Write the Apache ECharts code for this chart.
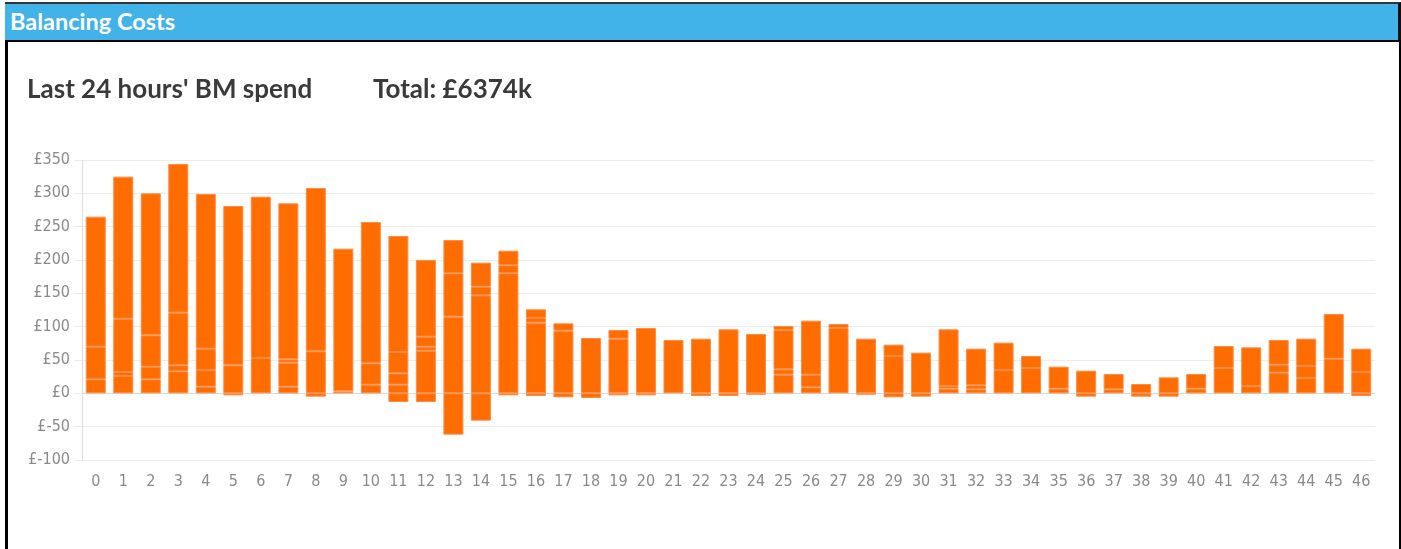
<!DOCTYPE html>
<html>
<head>
<meta charset="utf-8">
<script src="https://cdn.jsdelivr.net/npm/echarts@6/dist/echarts.min.js"></script>
<style>
  html, body { margin: 0; padding: 0; background: #fff; width: 1401px; height: 549px; overflow: hidden; }
  #chart { position: absolute; left: 0; top: 0; width: 1401px; height: 549px; }
  #frame { position: absolute; left: 5px; top: 40px; width: 1391px; height: 520px; border-left: 3px solid #000; border-right: 3px solid #000; pointer-events: none; }
  #header { position: absolute; left: 5px; top: 2px; width: 1393px; height: 36px; background: #41B3E9; border-top: 2px solid #333; border-bottom: 2px solid #000; border-right: 3px solid #111; pointer-events: none; }
  #header span { position: absolute; left: 5px; top: 3px; color: #fff; font-family: Lato, "Open Sans", sans-serif; font-weight: bold; font-size: 23.5px; }
</style>
</head>
<body>
<div id="chart"></div>
<div id="header"><span>Balancing Costs</span></div>
<div id="frame"></div>
<script>
// Settlement periods (x categories)
const categories = ['0','1','2','3','4','5','6','7','8','9','10','11','12','13','14','15','16','17','18','19','20','21','22','23','24','25','26','27','28','29','30','31','32','33','34','35','36','37','38','39','40','41','42','43','44','45','46'];

// Stacked cost components (£k), bottom to top
const seg1 = [21,26,21,33,10,42,53,10,63,3,13,13,64,115,147,180,106,94,83,82,98,80,82,96,89,28,9,98,82,56,61,7,6,35,38,7,34,6,14,24,7,38,11,31,23,52,32];
const seg2 = [49,6,19,9,25,239,242,36,245,214,32,17,6,65,13,12,7,11,null,13,null,null,null,null,null,8,19,6,null,17,null,4,6,41,18,33,null,23,null,null,22,33,58,12,18,67,35];
const seg3 = [195,80,47,79,32,null,null,5,null,null,212,32,15,50,36,22,13,null,null,null,null,null,null,null,null,59,81,null,null,null,null,85,55,null,null,null,null,null,null,null,null,null,null,37,41,null,null];
const seg4 = [null,213,213,223,232,null,null,234,null,null,null,174,115,null,null,null,null,null,null,null,null,null,null,null,null,6,null,null,null,null,null,null,null,null,null,null,null,null,null,null,null,null,null,null,null,null,null];
const negative = [null,null,null,null,null,-3,null,null,-5,null,null,-13,-13,-62,-41,-3,-4,-6,-7,-3,-3,null,-4,-4,-2,null,null,null,-2,-6,-5,null,null,null,null,null,-5,null,-5,-5,null,null,null,null,null,null,-4];

const titleText = "Last 24 hours' BM spend";
const totalText = "Total: £6374k";

const chart = echarts.init(document.getElementById('chart'), null, { renderer: 'canvas' });

const barStyle = { color: '#FF6C00', borderColor: '#FF8C45', borderWidth: 1 };
function mk(data) {
  return { type: 'bar', stack: 'bm', data: data, barWidth: 20, itemStyle: barStyle, emphasis: { disabled: true }, animation: false };
}
const axisFont = '"Liberation Sans Narrow", "DejaVu Sans Condensed", sans-serif';

chart.setOption({
  animation: false,
  title: [
    { text: titleText, left: 22, top: 72, textStyle: { fontFamily: 'Lato, "Open Sans", sans-serif', fontWeight: 'bold', fontSize: 26, color: '#3a3a3a' } },
    { text: totalText, left: 368, top: 72, textStyle: { fontFamily: 'Lato, "Open Sans", sans-serif', fontWeight: 'bold', fontSize: 26, color: '#3a3a3a' } }
  ],
  grid: { left: 82, right: 26, top: 160, bottom: 89, containLabel: false },
  xAxis: {
    type: 'category',
    data: categories,
    axisLine: { onZero: true, lineStyle: { color: '#d8d8d8' } },
    axisTick: { show: false },
    axisLabel: { color: '#8a8a8a', fontSize: 16, margin: 14, interval: 0, fontFamily: axisFont }
  },
  yAxis: {
    type: 'value',
    min: -100, max: 350, interval: 50,
    axisLine: { show: true, lineStyle: { color: '#e0e0e0' } },
    axisTick: { show: true, length: 8, lineStyle: { color: '#ececec' } },
    splitLine: { lineStyle: { color: '#ececec' } },
    axisLabel: { color: '#8a8a8a', fontSize: 16, margin: 12, formatter: '£{value}', fontFamily: axisFont }
  },
  series: [mk(seg1), mk(seg2), mk(seg3), mk(seg4), mk(negative)]
});
</script>
</body>
</html>
